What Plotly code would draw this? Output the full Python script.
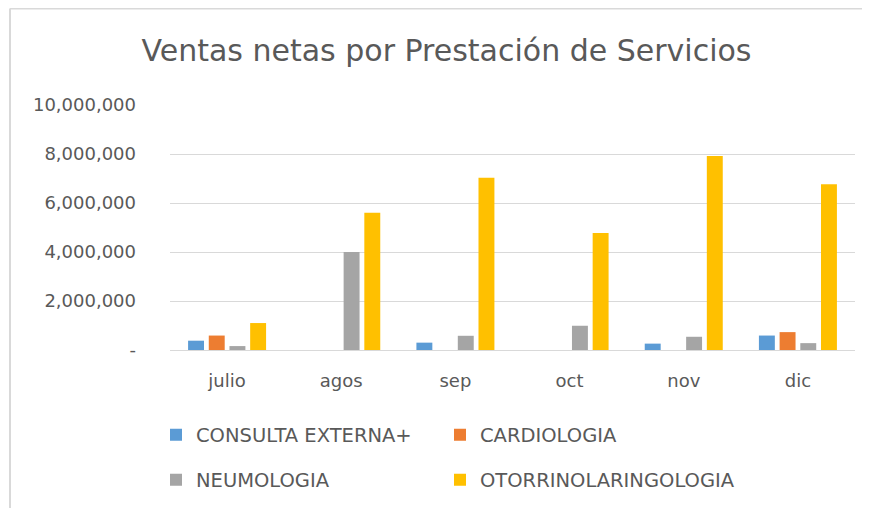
import plotly.graph_objects as go

months = ["julio", "agos", "sep", "oct", "nov", "dic"]
consulta_externa = [380000, 0, 300000, 0, 260000, 590000]
cardiologia = [590000, 0, 0, 0, 0, 730000]
neumologia = [160000, 4000000, 580000, 990000, 540000, 280000]
otorrino = [1100000, 5600000, 7030000, 4780000, 7920000, 6770000]

series_names = ["CONSULTA EXTERNA+", "CARDIOLOGIA", "NEUMOLOGIA", "OTORRINOLARINGOLOGIA"]
colors = ["#5B9BD5", "#ED7D31", "#A5A5A5", "#FFC000"]
tick_vals = [0, 2000000, 4000000, 6000000, 8000000, 10000000]
tick_text = ["-", "2,000,000", "4,000,000", "6,000,000", "8,000,000", "10,000,000"]

FONT = "DejaVu Sans"
GREY = "#595959"
W, H = 870, 508
OFF = 8  # page body margin offset

fig = go.Figure()
all_series = [consulta_externa, cardiologia, neumologia, otorrino]
legend_ids = ["legend", "legend2", "legend3", "legend4"]
for name, vals, col, lg in zip(series_names, all_series, colors, legend_ids):
    fig.add_trace(go.Bar(x=months, y=vals, name=name, marker_color=col,
                         marker_line_width=0, legend=lg))

def leg(xd, yd):
    return dict(orientation="h", xref="container", yref="container",
                x=(xd - OFF) / W, y=1 - (yd - OFF) / H,
                xanchor="left", yanchor="middle",
                font=dict(size=19.5, color=GREY, family=FONT),
                bgcolor="rgba(0,0,0,0)")

fig.update_layout(
    width=W, height=H,
    paper_bgcolor="white", plot_bgcolor="white",
    margin=dict(l=170 - OFF, r=15 + OFF, t=105 - OFF, b=158 + OFF, autoexpand=False),
    font=dict(family=FONT, color=GREY, size=17),
    title=dict(text="Ventas netas por Prestación de Servicios",
               x=(446.5 - OFF) / W, xanchor="center", y=1 - (50 - OFF) / H, yanchor="middle",
               font=dict(size=30, color=GREY, family=FONT)),
    bargap=0.275, bargroupgap=0.23,
    barmode="group",
    showlegend=True,
    legend=leg(156, 435),
    legend2=leg(440, 435),
    legend3=leg(156, 480),
    legend4=leg(440, 480),
    shapes=[
        dict(type="line", xref="paper", yref="paper", x0=-0.2336, x1=1.5, y0=1.394, y1=1.394,
             line=dict(color="#D9D9D9", width=2)),
        dict(type="line", xref="paper", yref="paper", x0=-0.2336, x1=-0.2336, y0=1.394, y1=-0.8,
             line=dict(color="#D9D9D9", width=2)),
    ],
)
fig.update_xaxes(showgrid=False, showline=True, linecolor="#D9D9D9", linewidth=1,
                 tickfont=dict(size=18, color=GREY), ticks="", ticklabelstandoff=14)
fig.update_yaxes(range=[0, 10000000], tickvals=tick_vals, ticktext=tick_text,
                 showgrid=True, gridcolor="#D9D9D9", gridwidth=1, zeroline=False,
                 showline=False, tickfont=dict(size=18, color=GREY), ticks="",
                 ticklabelstandoff=33)

fig.write_html("out.html")
